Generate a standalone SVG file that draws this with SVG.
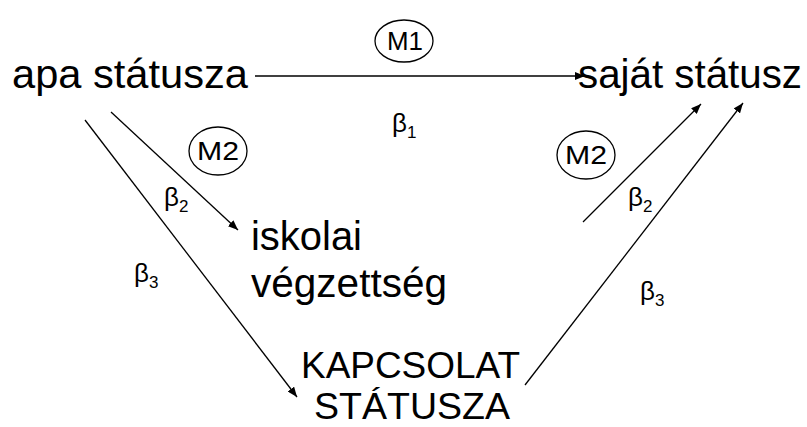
<svg xmlns="http://www.w3.org/2000/svg" width="807" height="427" viewBox="0 0 807 427">
<defs>
<marker id="ah" viewBox="0 0 10 8" refX="10" refY="4" markerWidth="10" markerHeight="8" markerUnits="userSpaceOnUse" orient="auto">
<path d="M0,0 L10,4 L0,8 Z" fill="#000"/>
</marker>
<style>
.big{font-family:"Liberation Sans",Arial,sans-serif;font-size:40px;fill:#000}
.cap{font-family:"Liberation Sans",Arial,sans-serif;font-size:36px;fill:#000}
.m{font-family:"Liberation Sans",Arial,sans-serif;font-size:25px;fill:#000}
.b{font-family:"Liberation Sans",Arial,sans-serif;font-size:26px;fill:#000}
.sub{font-size:17px}
.ring{fill:none;stroke:#000;stroke-width:1.3}
.edge{fill:none;stroke:#000;stroke-width:1.3;marker-end:url(#ah)}
</style>
</defs>
<rect width="807" height="427" fill="#fff"/>
<g id="connectors">
<line class="edge" x1="255" y1="76" x2="585" y2="76"/>
<line class="edge" x1="111" y1="112" x2="238" y2="230"/>
<line class="edge" x1="85" y1="120" x2="297" y2="397"/>
<line class="edge" x1="583" y1="222" x2="701" y2="104"/>
<line class="edge" x1="525" y1="385" x2="743" y2="103"/>
</g>
<g id="apa">
<text class="big" x="12" y="88" textLength="236" lengthAdjust="spacingAndGlyphs">apa státusza</text>
</g>
<g id="sajat">
<text class="big" x="578" y="88" textLength="224" lengthAdjust="spacingAndGlyphs">saját státusz</text>
</g>
<g id="iskolai">
<text class="big" x="251" y="250" textLength="111" lengthAdjust="spacingAndGlyphs">iskolai</text>
<text class="big" x="251" y="297" textLength="196" lengthAdjust="spacingAndGlyphs">végzettség</text>
</g>
<g id="kapcsolat">
<text class="cap" x="301" y="378" textLength="219" lengthAdjust="spacingAndGlyphs">KAPCSOLAT</text>
<text class="cap" x="314" y="419" textLength="196" lengthAdjust="spacingAndGlyphs">STÁTUSZA</text>
</g>
<g id="m1">
<ellipse class="ring" cx="404" cy="41" rx="29" ry="21"/>
<text class="m" x="387" y="50" textLength="36" lengthAdjust="spacingAndGlyphs">M1</text>
</g>
<g id="m2-left">
<ellipse class="ring" cx="218" cy="151" rx="29" ry="24"/>
<text class="m" x="197" y="160" textLength="42" lengthAdjust="spacingAndGlyphs">M2</text>
</g>
<g id="m2-right">
<ellipse class="ring" cx="586" cy="155" rx="29" ry="24"/>
<text class="m" x="565" y="164" textLength="42" lengthAdjust="spacingAndGlyphs">M2</text>
</g>
<g id="labels">
<text class="b" x="392" y="132">β<tspan class="sub" dy="6">1</tspan></text>
<text class="b" x="164" y="206">β<tspan class="sub" dy="6">2</tspan></text>
<text class="b" x="628" y="206">β<tspan class="sub" dy="6">2</tspan></text>
<text class="b" x="134" y="282">β<tspan class="sub" dy="6">3</tspan></text>
<text class="b" x="640" y="300">β<tspan class="sub" dy="6">3</tspan></text>
</g>
</svg>
